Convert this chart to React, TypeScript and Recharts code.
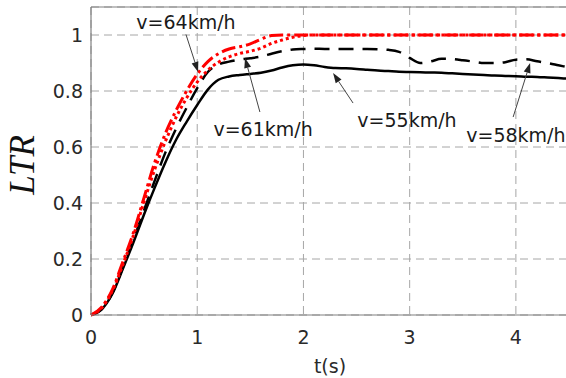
import React from 'react';
import { LineChart, Line, XAxis, YAxis, CartesianGrid, ReferenceLine, ReferenceDot } from 'recharts';

const times = [0, 0.1, 0.2, 0.3, 0.4, 0.5, 0.6, 0.7, 0.8, 0.9, 1.0, 1.1, 1.2, 1.3, 1.4, 1.5, 1.6, 1.7, 1.8, 1.9, 2.0, 2.1, 2.2, 2.3, 2.4, 2.5, 2.6, 2.7, 2.8, 2.9, 3.0, 3.1, 3.2, 3.3, 3.4, 3.5, 3.6, 3.7, 3.8, 3.9, 4.0, 4.1, 4.2, 4.3, 4.4, 4.5];

const v55 = [0, 0.02, 0.075, 0.165, 0.26, 0.36, 0.455, 0.545, 0.625, 0.69, 0.75, 0.805, 0.84, 0.852, 0.857, 0.861, 0.865, 0.873, 0.884, 0.892, 0.895, 0.892, 0.886, 0.882, 0.881, 0.879, 0.876, 0.873, 0.871, 0.869, 0.868, 0.867, 0.866, 0.865, 0.863, 0.861, 0.859, 0.857, 0.855, 0.854, 0.853, 0.851, 0.85, 0.848, 0.846, 0.844];

const v58 = [0, 0.02, 0.077, 0.17, 0.27, 0.375, 0.48, 0.58, 0.665, 0.74, 0.81, 0.868, 0.895, 0.905, 0.912, 0.917, 0.923, 0.933, 0.942, 0.948, 0.95, 0.951, 0.95, 0.95, 0.95, 0.95, 0.95, 0.949, 0.947, 0.94, 0.918, 0.9, 0.906, 0.915, 0.914, 0.91, 0.905, 0.9, 0.9, 0.903, 0.912, 0.913, 0.906, 0.9, 0.892, 0.884];

const v61 = [0, 0.025, 0.085, 0.18, 0.285, 0.405, 0.52, 0.62, 0.705, 0.775, 0.832, 0.874, 0.903, 0.922, 0.934, 0.942, 0.953, 0.97, 0.982, 0.992, 0.998, 1, 1, 1, 1, 1, 1, 1, 1, 1, 1, 1, 1, 1, 1, 1, 1, 1, 1, 1, 1, 1, 1, 1, 1, 1];

const v64 = [0, 0.028, 0.09, 0.19, 0.295, 0.42, 0.545, 0.648, 0.73, 0.8, 0.86, 0.905, 0.933, 0.95, 0.958, 0.968, 0.985, 0.998, 1, 1, 1, 1, 1, 1, 1, 1, 1, 1, 1, 1, 1, 1, 1, 1, 1, 1, 1, 1, 1, 1, 1, 1, 1, 1, 1, 1];

const xTicks = [0, 1, 2, 3, 4];
const yTicks = [0, 0.2, 0.4, 0.6, 0.8, 1];

const annLabels = ['v=64km/h', 'v=61km/h', 'v=55km/h', 'v=58km/h'];
const annTextT = [0.894, 1.62, 2.975, 4.0];
const annTextV = [1.046, 0.664, 0.696, 0.643];
const annFromT = [0.894, 1.59, 2.467, 3.974];
const annFromV = [1.002, 0.725, 0.757, 0.707];
const annToT = [1.008, 1.45, 2.279, 4.134];
const annToV = [0.868, 0.918, 0.864, 0.9];

const data = times.map((t, i) => ({ t, v55: v55[i], v58: v58[i], v61: v61[i], v64: v64[i] }));

const FONT = '"DejaVu Sans", sans-serif';
const TXT = '#2a2a2a';

const XTick = (props: any) => {
  const { x, y, payload } = props;
  return (
    <text x={x} y={y + 22} textAnchor="middle" dominantBaseline="central" fontFamily={FONT} fontSize={19} fill={TXT}>
      {payload.value}
    </text>
  );
};

const YTick = (props: any) => {
  const { x, y, payload } = props;
  return (
    <text x={x - 8} y={y} textAnchor="end" dominantBaseline="central" fontFamily={FONT} fontSize={19} fill={TXT}>
      {payload.value}
    </text>
  );
};

const ArrowShape = (props: any) => {
  const { x1, y1, x2, y2 } = props;
  const ang = Math.atan2(y2 - y1, x2 - x1);
  const L = 10;
  const W = 3.5;
  const bx = x2 - L * Math.cos(ang);
  const by = y2 - L * Math.sin(ang);
  const px = -Math.sin(ang) * W;
  const py = Math.cos(ang) * W;
  return (
    <g>
      <line x1={x1} y1={y1} x2={bx} y2={by} stroke="#444" strokeWidth={1} />
      <polygon points={`${x2},${y2} ${bx + px},${by + py} ${bx - px},${by - py}`} fill="#222" />
    </g>
  );
};

const makeTextShape = (label: string) => (props: any) => {
  const { cx, cy } = props;
  return (
    <text x={cx} y={cy} textAnchor="middle" dominantBaseline="central" fontFamily={FONT} fontSize={19} fill="#1a1a1a">
      {label}
    </text>
  );
};

export default function App() {
  return (
    <div style={{ position: 'absolute', left: 0, top: 0, width: 566, height: 378, overflow: 'hidden', background: '#fff' }}>
      <LineChart width={570} height={378} data={data} margin={{ top: 7, right: 1, left: 0, bottom: 0 }}>
        <CartesianGrid strokeDasharray="8 5" stroke="#a6a6a6" strokeWidth={1} />
        <XAxis
          dataKey="t"
          type="number"
          domain={[0, 4.5]}
          ticks={xTicks}
          height={63}
          tickLine={false}
          tickSize={0}
          tickMargin={0}
          axisLine={{ stroke: '#808080', strokeWidth: 1.2 }}
          tick={<XTick />}
          label={{
            content: (p: any) => {
              const vb = p.viewBox || { x: 91, width: 478, y: 315 };
              return (
                <text x={vb.x + vb.width / 2} y={366} textAnchor="middle" dominantBaseline="central" fontFamily={FONT} fontSize={19} fill={TXT}>
                  t(s)
                </text>
              );
            },
          }}
        />
        <YAxis
          type="number"
          domain={[0, 1.1]}
          ticks={yTicks}
          width={91}
          tickLine={false}
          tickSize={0}
          tickMargin={0}
          axisLine={{ stroke: '#808080', strokeWidth: 1.2 }}
          tick={<YTick />}
          label={{
            content: () => (
              <text
                x={22}
                y={165}
                transform="rotate(-90 22 165)"
                textAnchor="middle"
                dominantBaseline="central"
                fontFamily='"Liberation Serif", serif'
                fontStyle="italic"
                fontSize={35}
                fill="#111"
              >
                LTR
              </text>
            ),
          }}
        />
        <ReferenceLine y={1.1} stroke="#808080" strokeWidth={1.2} />
        <Line type="monotone" dataKey="v55" stroke="#000" strokeWidth={2.5} dot={false} isAnimationActive={false} />
        <Line type="monotone" dataKey="v58" stroke="#000" strokeWidth={2.5} strokeDasharray="15 9" dot={false} isAnimationActive={false} />
        <Line type="monotone" dataKey="v61" stroke="#ff0000" strokeWidth={3} strokeDasharray="3 3" dot={false} isAnimationActive={false} />
        <Line type="monotone" dataKey="v64" stroke="#ff0000" strokeWidth={3} strokeDasharray="14 4 3 4" dot={false} isAnimationActive={false} />
        {annLabels.map((lab, i) => (
          <ReferenceLine
            key={'a' + i}
            segment={[
              { x: annFromT[i], y: annFromV[i] },
              { x: annToT[i], y: annToV[i] },
            ]}
            ifOverflow="visible"
            shape={ArrowShape}
          />
        ))}
        {annLabels.map((lab, i) => (
          <ReferenceDot key={'t' + i} x={annTextT[i]} y={annTextV[i]} r={0} ifOverflow="visible" shape={makeTextShape(lab)} />
        ))}
      </LineChart>
    </div>
  );
}
